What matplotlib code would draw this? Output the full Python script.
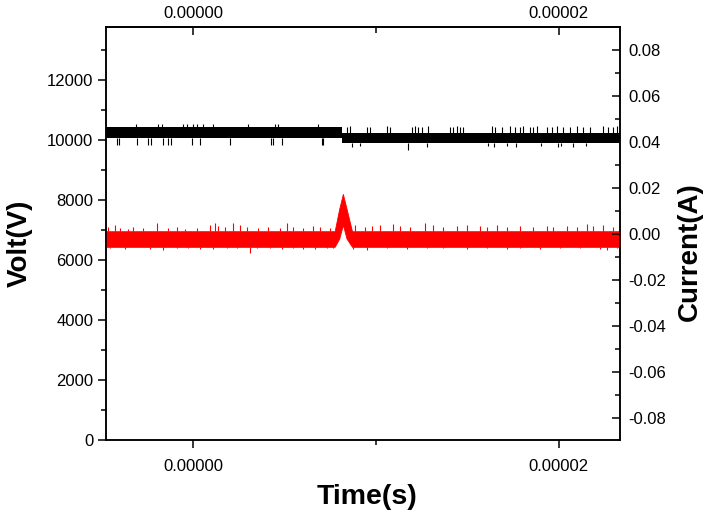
import matplotlib
matplotlib.use("Agg")
import matplotlib.pyplot as plt
from matplotlib.ticker import MultipleLocator, FormatStrFormatter, FixedLocator
import numpy as np

plt.rcParams['font.family'] = ['Liberation Sans', 'DejaVu Sans']

# ---------------- data (time in microseconds) ----------------
# Voltage (black) band envelope
volt_t_us = [-4.75, 8.14, 8.14, 23.35]
volt_hi = [10430, 10430, 10250, 10250]
volt_lo = [10080, 10080, 9890, 9890]

# Voltage spikes above / below the band
volt_up_t_us = [-3.11, -1.91, -1.69, -0.55, -0.33, 0.00, 0.22, 0.55, 1.09, 3.01, 4.48, 4.64, 6.83,
                8.03, 8.42, 8.58, 9.51, 9.67, 10.60, 10.77, 11.97, 12.13, 12.30, 12.51, 12.84,
                14.04, 14.21, 14.43, 14.59, 14.75, 16.34, 16.50, 16.89, 17.32, 17.60, 17.87,
                18.03, 18.42, 18.58, 18.80, 19.34, 19.62, 19.89, 20.22, 20.60, 20.98, 21.31,
                21.69, 22.40, 22.68, 22.95, 23.17]
volt_up_v = [10550, 10540, 10550, 10530, 10550, 10540, 10550, 10530, 10540, 10550, 10540, 10550, 10530,
             10450, 10440, 10460, 10450, 10440, 10460, 10450, 10440, 10460, 10450, 10440, 10460,
             10450, 10440, 10460, 10450, 10440, 10460, 10450, 10440, 10460, 10450, 10440,
             10460, 10450, 10440, 10460, 10450, 10440, 10460, 10450, 10440, 10460, 10450,
             10440, 10460, 10450, 10440, 10460]
volt_dn_t_us = [-4.15, -4.04, -3.06, -2.46, -2.30, -1.64, -1.37, -1.20, -0.05, 0.38, 2.02, 4.26, 4.37,
                4.86, 7.05, 7.10, 8.69, 9.13, 11.75, 12.79, 16.12, 16.45, 17.16, 17.65, 19.02,
                19.95, 20.11, 20.77, 21.48]
volt_dn_v = [9840, 9850, 9840, 9830, 9850, 9840, 9850, 9830, 9840, 9850, 9830, 9840, 9850,
             9840, 9850, 9840, 9780, 9790, 9670, 9780, 9790, 9780, 9790, 9780, 9790,
             9780, 9790, 9780, 9790]

# Current (red) band envelope with the discharge peak
curr_t_us = [-4.75, 7.75, 8.00, 8.20, 8.40, 8.70, 23.35]
curr_hi = [0.0012, 0.0012, 0.0110, 0.0174, 0.0110, 0.0012, 0.0012]
curr_lo = [-0.0056, -0.0056, -0.0020, 0.0040, -0.0020, -0.0056, -0.0056]

curr_up_t_us = [-4.64, -4.26, -3.99, -3.55, -3.28, -2.73, -1.97, -1.37, -0.87, -0.44, 0.22, 0.93, 1.20,
                1.37, 1.75, 2.19, 2.57, 2.95, 3.55, 4.10, 4.75, 5.14, 5.46, 6.01, 6.56, 6.94, 7.49,
                8.85, 9.40, 9.78, 10.22, 10.93, 11.31, 11.86, 12.68, 13.11, 13.66, 14.43, 14.97,
                15.68, 16.07, 16.61, 17.16, 17.87, 18.58, 19.34, 19.67, 20.44, 20.98, 21.53, 21.86,
                22.40, 22.95]
curr_up_v = [0.0032, 0.0039, 0.0025, 0.0020, 0.0032, 0.0025, 0.0047, 0.0025, 0.0032, 0.0020, 0.0025,
             0.0039, 0.0047, 0.0035, 0.0032, 0.0047, 0.0039, 0.0032, 0.0025, 0.0032, 0.0025, 0.0047,
             0.0032, 0.0025, 0.0035, 0.0032, 0.0025,
             0.0039, 0.0032, 0.0035, 0.0039, 0.0043, 0.0035, 0.0032, 0.0047, 0.0039, 0.0032, 0.0035,
             0.0039, 0.0035, 0.0032, 0.0039, 0.0032, 0.0035, 0.0032, 0.0035, 0.0032, 0.0035, 0.0032,
             0.0044, 0.0035, 0.0039, 0.0032]
curr_dn_t_us = [-4.54, -3.72, -3.06, -2.35, -1.64, -0.87, -0.27, 0.38, 1.09, 1.86, 2.40, 3.11, 3.50,
                4.21, 4.86, 5.46, 6.01, 6.67, 7.32, 7.65,
                8.74, 9.51, 10.60, 11.69, 12.79, 13.66, 14.97, 16.07, 17.16, 17.87, 18.96, 20.05,
                21.15, 22.24, 22.62, 23.17]
curr_dn_v = [-0.0062, -0.0066, -0.0058, -0.0064, -0.0070, -0.0062, -0.0060, -0.0064, -0.0066, -0.0060,
             -0.0063, -0.0081, -0.0062, -0.0060, -0.0065, -0.0063, -0.0064, -0.0067, -0.0060, -0.0063,
             -0.0066, -0.0070, -0.0062, -0.0067, -0.0063, -0.0062, -0.0064, -0.0062, -0.0065, -0.0062,
             -0.0064, -0.0063, -0.0062, -0.0064, -0.0070, -0.0063]

x_ticks = [0.0, 2e-5]
x_minor = [1e-5]

# ---------------- plotting ----------------
US = 1e-6
fig = plt.figure(figsize=(7.09, 5.17), dpi=100)
ax = fig.add_axes([106/709, 1-440/517, (620-106)/709, (440-27)/517])
ax2 = ax.twinx()

vt = np.array(volt_t_us) * US
ax.fill_between(vt, volt_lo, volt_hi, color='black', lw=0)
vut = np.array(volt_up_t_us) * US
vut_base = [volt_hi[0] if t < 8.14 else volt_hi[-1] for t in volt_up_t_us]
ax.vlines(vut, vut_base, volt_up_v, color='black', lw=0.8)
vdt = np.array(volt_dn_t_us) * US
vdt_base = [volt_lo[0] if t < 8.14 else volt_lo[-1] for t in volt_dn_t_us]
ax.vlines(vdt, volt_dn_v, vdt_base, color='black', lw=0.8)

red = '#FF0000'
ct = np.array(curr_t_us) * US
ax2.fill_between(ct, curr_lo, curr_hi, color=red, lw=0.6, edgecolor=red)
ax2.vlines(np.array(curr_up_t_us) * US, curr_hi[0], curr_up_v, color=red, lw=0.8)
ax2.vlines(np.array(curr_dn_t_us) * US, curr_dn_v, curr_lo[0], color=red, lw=0.8)

ax.set_xlim(-4.75e-6, 2.335e-5)
ax.set_ylim(0, 13767)
ax2.set_ylim(-0.0896, 0.0900)

# x axis ticks
ax.xaxis.set_major_locator(FixedLocator(x_ticks))
ax.xaxis.set_minor_locator(FixedLocator(x_minor))
ax.xaxis.set_major_formatter(FormatStrFormatter('%.5f'))
ax.tick_params(axis='x', which='major', direction='out', length=6, width=1.1, labelsize=12, pad=8)
ax.tick_params(axis='x', which='minor', direction='out', length=3.5, width=1.1)

top = ax.secondary_xaxis('top')
top.xaxis.set_major_locator(FixedLocator(x_ticks))
top.xaxis.set_minor_locator(FixedLocator(x_minor))
top.xaxis.set_major_formatter(FormatStrFormatter('%.5f'))
top.tick_params(axis='x', which='major', direction='in', length=6, width=1.1, labelsize=12, pad=4)
top.tick_params(axis='x', which='minor', direction='in', length=4.5, width=1.1)

# left y
ax.yaxis.set_major_locator(MultipleLocator(2000))
ax.yaxis.set_minor_locator(MultipleLocator(1000))
ax.tick_params(axis='y', which='major', direction='out', length=6, width=1.1, labelsize=12, pad=3)
ax.tick_params(axis='y', which='minor', direction='out', length=3.5, width=1.1)

# right y
ax2.yaxis.set_major_locator(MultipleLocator(0.02))
ax2.yaxis.set_minor_locator(MultipleLocator(0.01))
ax2.yaxis.set_major_formatter(FormatStrFormatter('%.2f'))
ax2.tick_params(axis='y', which='major', direction='in', length=6, width=1.1, labelsize=12, pad=6)
ax2.tick_params(axis='y', which='minor', direction='in', length=3.5, width=1.1)

for a in (ax, ax2):
    for s in a.spines.values():
        s.set_linewidth(1.1)
top.spines['top'].set_linewidth(1.1)

fig.text(20/709, 1-243/517, 'Volt(V)', rotation=90, ha='center', va='center',
         fontsize=20, fontweight='bold')
fig.text(690/709, 1-252/517, 'Current(A)', rotation=90, ha='center', va='center',
         fontsize=20, fontweight='bold')
fig.text(367/709, 1-497/517, 'Time(s)', ha='center', va='center',
         fontsize=20.5, fontweight='bold')

fig.savefig('out.png', dpi=100)
